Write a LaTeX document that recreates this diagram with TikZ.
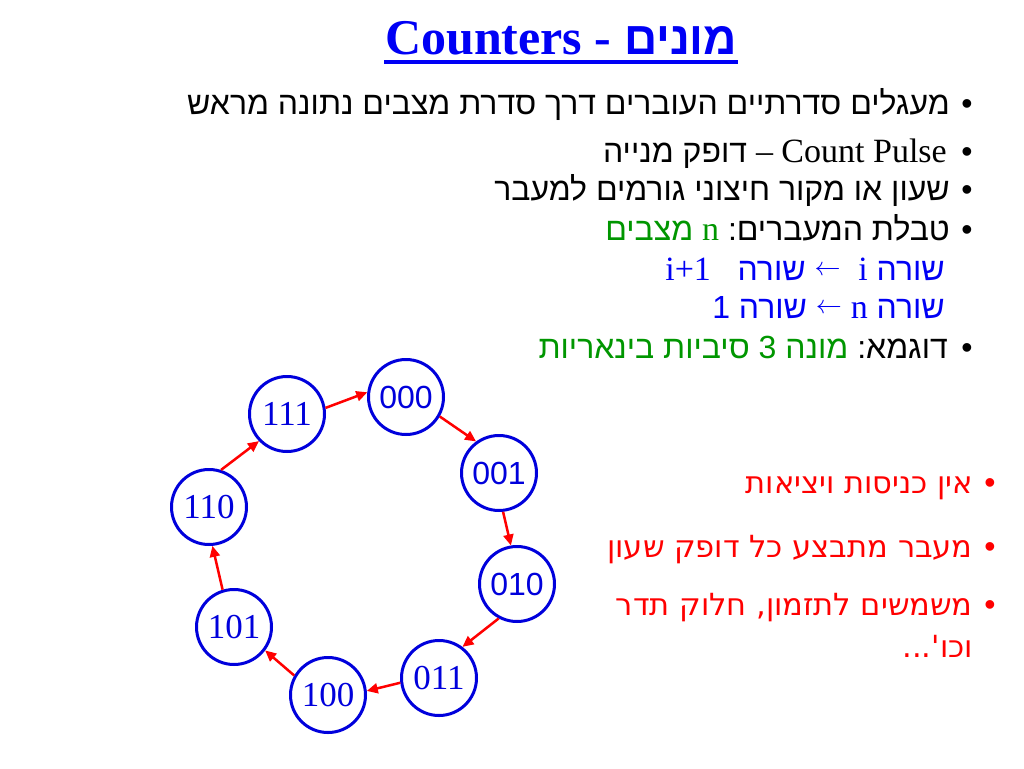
\documentclass[tikz,border=0pt]{standalone}
\usepackage{fontspec}
\usepackage{graphicx}
\usetikzlibrary{arrows.meta}
\TeXXeTstate=1
\newfontfamily\heb[Script=Hebrew]{Liberation Sans}
\newfontfamily\hebb[Script=Hebrew]{Liberation Sans Bold}
\newfontfamily\tnr{Liberation Serif}
\newfontfamily\tnrb{Liberation Serif Bold}
\newfontfamily\redf[Script=Hebrew]{DejaVu Sans}
\definecolor{tblue}{RGB}{0,0,245}
\definecolor{cblue}{RGB}{0,0,220}
\definecolor{tgreen}{RGB}{0,150,0}
\definecolor{tred}{RGB}{255,0,0}
\newcommand{\hebsz}{\fontsize{32}{38}\selectfont}
\newcommand{\latsz}{\fontsize{34}{40}\selectfont}
\newcommand{\larr}{\raisebox{4.5pt}{\resizebox{26pt}{!}{$\leftarrow$}}}
\tikzset{
  line/.style={anchor=base east, inner sep=0pt, font=\heb\hebsz},
  bul/.style={anchor=base, inner sep=0pt, font=\heb\fontsize{32}{38}\selectfont},
  redline/.style={anchor=base east, inner sep=0pt, text=tred, font=\redf\fontsize{30.5}{36}\selectfont},
  state/.style={circle, draw=cblue, line width=3pt, minimum size=75pt, inner sep=0pt, text=cblue},
  sansst/.style={state, font=\heb\fontsize{32}{38}\selectfont},
  serifst/.style={state, font=\tnr\fontsize{35}{40}\selectfont},
  trans/.style={draw=tred, line width=2.5pt, -{Triangle[length=11pt,width=10pt]}}
}
\begin{document}
\begin{tikzpicture}[x=1pt,y=-1pt]
\useasboundingbox[fill=white] (0,0) rectangle (1024,768);
% title
\node[anchor=base west, inner sep=0pt, text=tblue] (title) at (385,55)
  {{\tnrb\fontsize{50}{56}\selectfont Counters -\ }{\hebb\fontsize{46}{50}\selectfont\beginR מונים\endR}};
\draw[tblue, line width=4pt] (title.base west) ++(-1,7) coordinate (ul1) -- ([xshift=1pt]title.base east |- ul1);
% bullets
\node[bul] (b1) at (967,114) {•};
\node[line] (l1) at (950,114) {\beginR מעגלים סדרתיים העוברים דרך סדרת מצבים נתונה מראש\endR};
\node[bul] (b2) at (967,162) {•};
\node[line] (l2) at (947,162) {\beginR דופק מנייה\endR\ {\tnr\latsz –\ Count Pulse}};
\node[bul] (b3) at (967,200) {•};
\node[line] (l3) at (950,200) {\beginR שעון או מקור חיצוני גורמים למעבר\endR};
\node[bul] (b4) at (967,240) {•};
\node[line] (l4) at (950,240) {{\color{tgreen}\beginR מצבים\endR\ {\tnr\latsz n}}\ \beginR טבלת המעברים:\endR};
\node[line, text=tblue] (l5) at (945,280) {{\tnr\latsz i+1}\ \ \ \beginR שורה\endR\ \larr\ \ {\tnr\latsz i}\ \beginR שורה\endR};
\node[line, text=tblue] (l6) at (945,318) {1\ \beginR שורה\endR\ \larr\ {\tnr\latsz n}\ \beginR שורה\endR};
\node[bul] (b7) at (967,358) {•};
\node[line] (l7) at (948,358) {{\color{tgreen}\beginR מונה 3 סיביות בינאריות\endR}\ \beginR דוגמא:\endR};
% red bullets
\node[bul, text=tred] (r1b) at (990,493) {•};
\node[redline] (r1) at (973,493) {\beginR אין כניסות ויציאות\endR};
\node[bul, text=tred] (r2b) at (990,557) {•};
\node[redline] (r2) at (973,557) {\beginR מעבר מתבצע כל דופק שעון\endR};
\node[bul, text=tred] (r3b) at (990,615) {•};
\node[redline] (r3) at (973,615) {\beginR משמשים לתזמון, חלוק תדר\endR};
\node[redline] (r4) at (973,657) {\beginR וכו'...\endR};
% states
\node[sansst] (s000) at (406,397) {000};
\node[serifst] (s111) at (287,414) {111};
\node[sansst] (s001) at (499,473) {001};
\node[serifst] (s110) at (209,507) {110};
\node[sansst] (s010) at (517,584) {010};
\node[serifst] (s101) at (234,627) {101};
\node[serifst] (s011) at (439,678) {011};
\node[serifst] (s100) at (328,695) {100};
% transitions
\draw[trans] (s111.9) -- (s000.173);
\draw[trans] (s000.-30) -- (s001.126);
\draw[trans] (s001.-84) -- (s010.99);
\draw[trans] (s010.-118) -- (s011.53);
\draw[trans] (s011.-173) -- (s100.6);
\draw[trans] (s100.150) -- (s101.-37);
\draw[trans] (s101.107) -- (s110.-85);
\draw[trans] (s110.72) -- (s111.224);
\end{tikzpicture}
\end{document}
